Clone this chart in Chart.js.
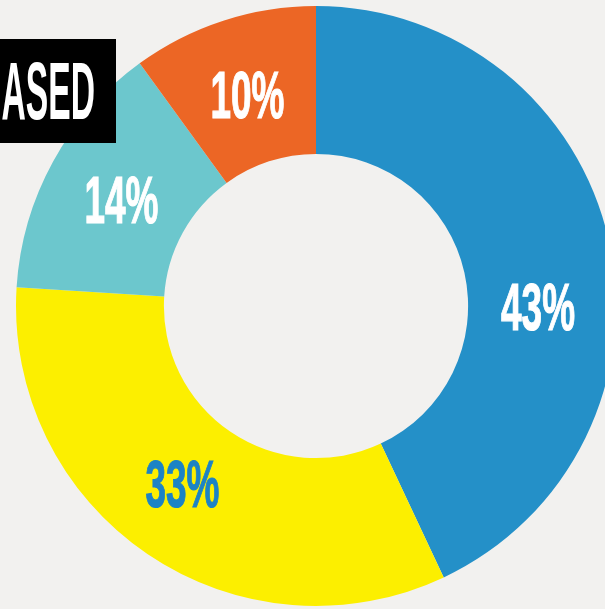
<!DOCTYPE html>
<html>
<head>
<meta charset="utf-8">
<script src="https://cdn.jsdelivr.net/npm/chart.js@4.4.1/dist/chart.umd.min.js"></script>
<style>
  html, body { margin: 0; padding: 0; width: 605px; height: 609px; overflow: hidden; background: #f2f1ef; }
  #wrap { position: absolute; left: 0; top: 0; width: 632px; height: 612px; }
</style>
</head>
<body>
<div id="wrap"><canvas id="donut" width="632" height="612"></canvas></div>
<script>
// shares, clockwise from 12 o'clock
const categories = ["Blue", "Yellow", "Teal", "Orange"]
const shares = [43, 33, 14, 10]
const sliceColors = ["#2490c8", "#fcef00", "#6cc7cd", "#ec6625"]
const labelColors = ["#ffffff", "#1c83c5", "#ffffff", "#ffffff"]
const tagText = "ASED"

// labels inside each ring slice, condensed like the poster type
const sliceLabels = {
    id: "sliceLabels",
    afterDatasetsDraw(chart, args, opts) {
        const ctx = chart.ctx
        const meta = chart.getDatasetMeta(0)
        meta.data.forEach((arc, i) => {
            const p = arc.getProps(["x", "y", "startAngle", "endAngle", "innerRadius", "outerRadius"], true)
            let a = (p.startAngle + p.endAngle) / 2
            if (opts.angleFromTop[i] != null) a = opts.angleFromTop[i] * Math.PI / 180 - Math.PI / 2
            const r = (p.innerRadius + p.outerRadius) / 2 - 4
            const x = p.x + Math.cos(a) * r
            const y = p.y + Math.sin(a) * r
            ctx.save()
            ctx.translate(x, y)
            ctx.scale(opts.squeeze, 1)
            ctx.font = "bold 66px 'Liberation Sans', Arial, sans-serif"
            ctx.textAlign = "center"
            ctx.textBaseline = "alphabetic"
            ctx.fillStyle = labelColors[i]
            ctx.strokeStyle = labelColors[i]
            ctx.lineWidth = 1.2
            ctx.fillText(shares[i] + "%", 0, 23.5)
            ctx.strokeText(shares[i] + "%", 0, 23.5)
            ctx.restore()
        })

        // black tag in the corner
        ctx.save()
        ctx.fillStyle = "#000000"
        ctx.fillRect(0, 39, 116, 104)
        ctx.translate(95, 119)
        ctx.scale(0.41, 1)
        ctx.font = "bold 82px 'Liberation Sans', Arial, sans-serif"
        ctx.textAlign = "right"
        ctx.textBaseline = "alphabetic"
        ctx.fillStyle = "#ffffff"
        ctx.fillText(tagText, 0, 0)
        ctx.restore()
    }
}

new Chart(document.getElementById("donut"), {
    type: "doughnut",
    data: {
        labels: categories,
        datasets: [{
            data: shares,
            backgroundColor: sliceColors,
            borderWidth: 0
        }]
    },
    options: {
        responsive: false,
        animation: false,
        cutout: "50.7%",
        layout: { padding: { left: 16, right: 16, top: 6, bottom: 6 } },
        plugins: {
            legend: { display: false },
            tooltip: { enabled: false },
            sliceLabels: {
                squeeze: 0.56,
                angleFromTop: [90, 217, null, null]
            }
        }
    },
    plugins: [sliceLabels]
})
</script>
</body>
</html>
